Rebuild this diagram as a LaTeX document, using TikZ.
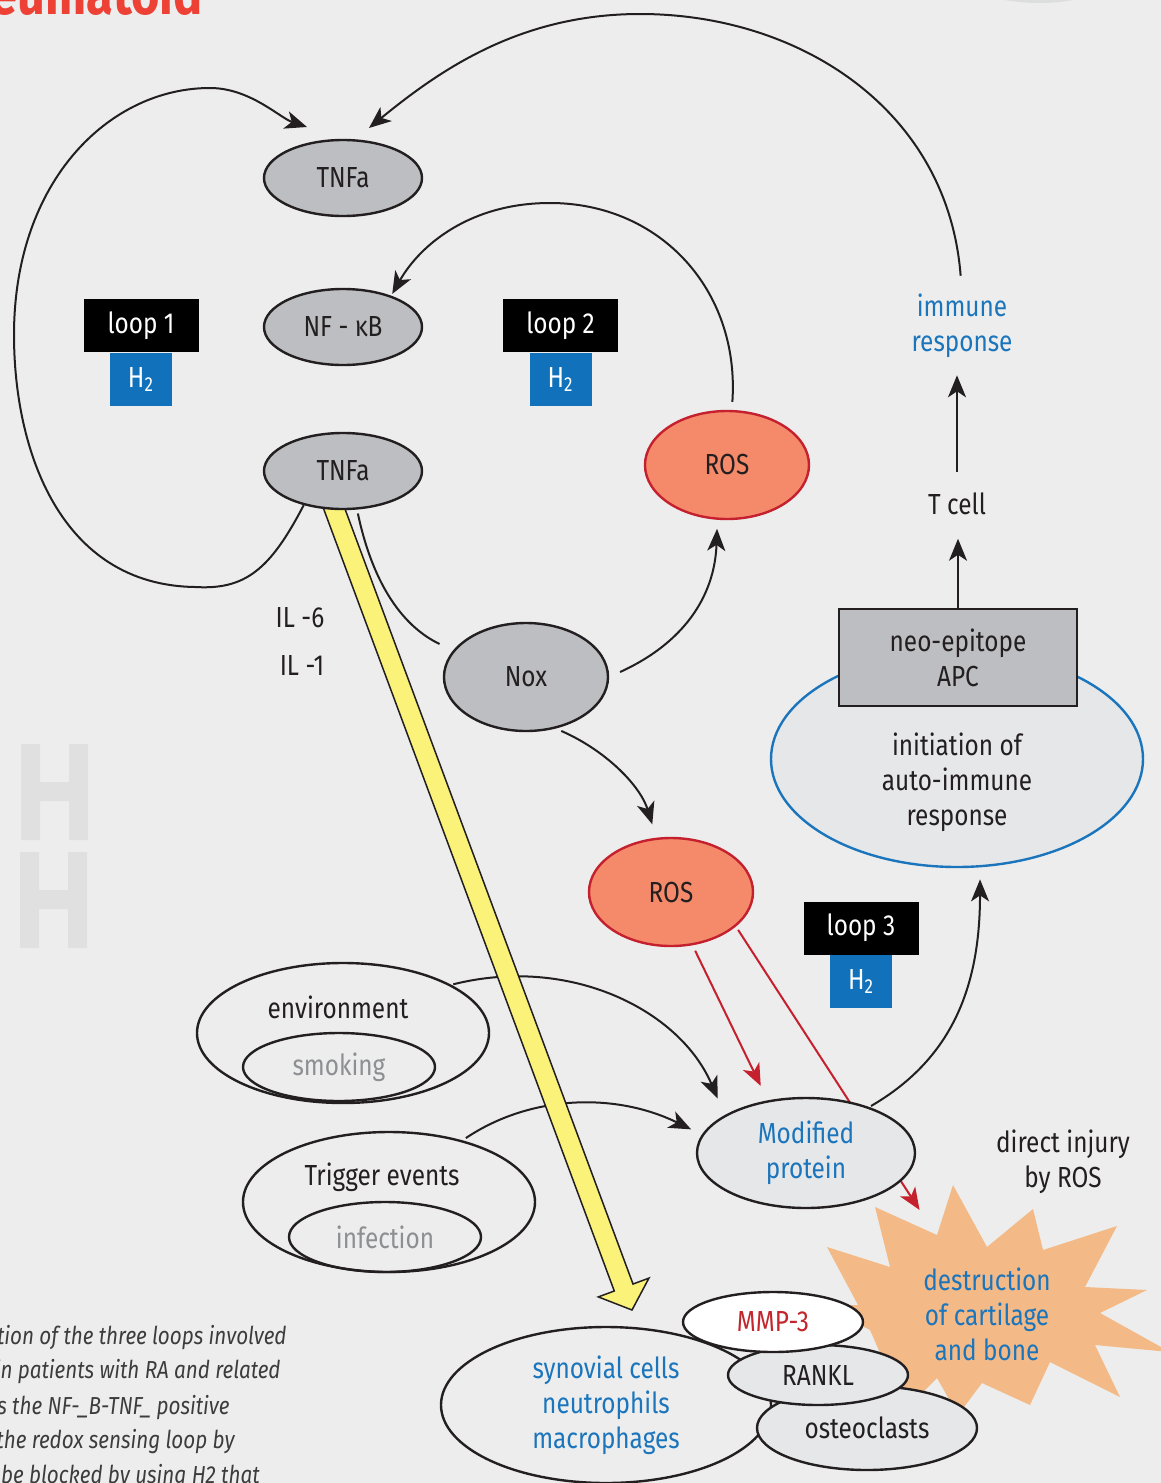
\documentclass[tikz,border=0pt]{standalone}
\usepackage{fontspec}
\setmainfont{Fira Sans}[FakeStretch=0.84]
\usetikzlibrary{arrows.meta, positioning, shapes.geometric, calc}

\definecolor{paper}{HTML}{ECEDEC}
\definecolor{ink}{HTML}{231F20}
\definecolor{nodegrey}{HTML}{BDBEC1}
\definecolor{pale}{HTML}{E6E7E9}
\definecolor{rosfill}{HTML}{F58A6B}
\definecolor{rosline}{HTML}{C5202E}
\definecolor{htwoblue}{HTML}{1172BB}
\definecolor{txtblue}{HTML}{1B75BC}
\definecolor{mmpred}{HTML}{C1272D}
\definecolor{arrowyellow}{HTML}{FAF279}
\definecolor{burstorange}{HTML}{F3BA88}
\definecolor{titlered}{HTML}{EE4136}
\definecolor{smokegrey}{HTML}{8E8F92}
\definecolor{markgrey}{HTML}{DFE0DF}
\definecolor{shadowgrey}{HTML}{DCDDDD}
\definecolor{captiongrey}{HTML}{3C3C3C}

\pgfdeclarelayer{back}
\pgfdeclarelayer{mid}
\pgfsetlayers{back,mid,main}

\tikzset{
  lbl/.style={font=\fontsize{14.5}{17.5}\selectfont, text=ink, inner sep=0pt, align=center},
  ell/.style={ellipse, lbl, draw=ink, line width=1.2pt},
  grey ell/.style={ell, fill=nodegrey, minimum width=79pt, minimum height=38pt},
  ros ell/.style={ell, draw=rosline, fill=rosfill, minimum width=82pt, minimum height=54pt},
  loopbox/.style={lbl, fill=black, text=white, minimum width=57.5pt, minimum height=26.5pt},
  htwo/.style={lbl, fill=htwoblue, text=white, minimum width=31pt, minimum height=26.5pt},
  link/.style={draw=ink, line width=1pt, -{Stealth[length=11pt, width=9pt, inset=3pt]}},
  plainlink/.style={draw=ink, line width=1pt},
  redlink/.style={draw=rosline, line width=1pt, -{Stealth[length=11pt, width=9pt, inset=3pt]}},
  caption/.style={font=\fontsize{12.3}{14}\selectfont\itshape, text=captiongrey, inner sep=0pt, anchor=base east},
}

\begin{document}
\begin{tikzpicture}[x=0.5pt, y=-0.5pt]
\useasboundingbox (0,0) rectangle (1161,1483);

\begin{pgfonlayer}{back}
  \fill[paper] (0,0) rectangle (1161,1483);
  % faint letters on the left
  \fill[markgrey] (21,744) rectangle (40,840) (69,744) rectangle (88,840) (40,782) rectangle (69,801);
  \fill[markgrey] (20,852) rectangle (39,948) (68,852) rectangle (87,948) (39,890) rectangle (68,909);
  \fill[shadowgrey] (1039,-190) circle[radius=193];
  % burst behind the bone cells
  \fill[burstorange] (953,1185) -- (987,1247) -- (1033,1209) -- (1043,1250) -- (1117,1226)
    -- (1085,1287) -- (1147,1290) -- (1100,1313) -- (1170,1352) -- (1095,1345) -- (1120,1397)
    -- (1050,1362) -- (1030,1405) -- (982,1383) -- (958,1415) -- (937,1378) -- (905,1410)
    -- (870,1330) -- (822,1305) -- (858,1305) -- (827,1247) -- (890,1267) -- (875,1207)
    -- (937,1235) -- cycle;
\end{pgfonlayer}

\node[anchor=base east, inner sep=0pt, font=\fontsize{29}{30}\selectfont\bfseries, text=titlered] (title) at (203,14) {eumatoid};

% loop nodes
\node[grey ell] (tnft) at (343,178) {TNFa};
\node[grey ell] (nfkb) at (343,327) {NF - κB};
\node[grey ell] (tnfb) at (343,471) {TNFa};
\node[loopbox] (loopa) at (141,325.5) {loop 1};
\node[htwo, below=0pt of loopa] (htwoa) {H\textsubscript{2}};
\node[loopbox] (loopb) at (560.5,325.5) {loop 2};
\node[htwo, below=0pt of loopb] (htwob) {H\textsubscript{2}};
\node[ros ell] (rost) at (727,465) {ROS};
\node[grey ell, minimum width=82pt, minimum height=54pt] (nox) at (526,677) {Nox};
\node[lbl, anchor=base] (ilsix) at (300,627) {IL -6};
\node[lbl, anchor=base] (ilone) at (302,675) {IL -1};
\node[ros ell] (rosm) at (671,892) {ROS};
\node[loopbox] (loopc) at (861,928) {loop 3};
\node[htwo, below=0pt of loopc] (htwoc) {H\textsubscript{2}};

% immune side
\node[lbl, text=txtblue] (immune) at (962,326) {immune\\response};
\node[lbl, anchor=base] (tcell) at (957,514) {T cell};
\node[ell, draw=txtblue, fill=pale, minimum width=186pt, minimum height=108pt] (init) at (957,759) {};
\node[lbl, draw=ink, line width=1.2pt, fill=nodegrey, minimum width=119pt, minimum height=48.5pt] (apc) at (958,657.5) {neo-epitope\\APC};
\node[lbl] (inittxt) at (957,782) {initiation of\\auto-immune\\response};

\node[ell, fill=pale, minimum width=109pt, minimum height=55pt, text=txtblue] (modp) at (806,1153) {Modified\\protein};
\node[lbl] (injury) at (1063,1162) {direct injury\\by ROS};
\node[lbl, text=txtblue] (dest) at (987,1314) {destruction\\of cartilage\\and bone};

% bottom cluster
\node[ell, fill=paper, minimum width=165pt, minimum height=78pt, text=txtblue] (syn) at (606,1405) {synovial cells\\neutrophils\\macrophages};
\node[ell, fill=pale, minimum width=110pt, minimum height=42pt] (ost) at (867,1428) {osteoclasts};
\node[ell, fill=pale, minimum width=90pt, minimum height=30pt] (rankl) at (818,1375) {RANKL};
\node[ell, fill=white, minimum width=90pt, minimum height=30pt, text=mmpred] (mmp) at (773,1322) {MMP-3};

\node[ell, minimum width=146pt, minimum height=70pt] (env) at (343,1033) {};
\node[ell, minimum width=96pt, minimum height=34pt, text=smokegrey] (smoke) at (339,1067) {smoking};
\node[lbl, anchor=base] (envtxt) at (338,1018) {environment};
\node[ell, minimum width=146pt, minimum height=70pt] (trig) at (389,1202) {};
\node[ell, minimum width=96pt, minimum height=35pt, text=smokegrey] (infect) at (385,1237) {infection};
\node[lbl, anchor=base] (trigtxt) at (382,1185) {Trigger events};

% caption, cut at the left edge
\node[caption] (capa) at (287,1344) {tion of the three loops involved};
\node[caption] (capb) at (281,1378) {in patients with RA and related};
\node[caption] (capc) at (230,1414) {s the NF-\_B-TNF\_ positive};
\node[caption] (capd) at (235,1448) {the redox sensing loop by};
\node[caption] (cape) at (260,1483) {be blocked by using H2 that};

\coordinate (t1in) at (307,127);
\coordinate (t2in) at (369,128);
\coordinate (ystart) at (331,500);
\coordinate (yend) at (632,1310);
\coordinate (ybase) at ($(yend)!12pt!(ystart)$);

\begin{pgfonlayer}{mid}
  \filldraw[fill=arrowyellow, draw=ink, line width=0.75pt, line join=miter]
    ($(ystart)!5pt!90:(yend)$) -- ($(ybase)!5pt!90:(yend)$) -- ($(ybase)!13.5pt!90:(yend)$)
    -- (yend) -- ($(ybase)!13.5pt!-90:(yend)$) -- ($(ybase)!5pt!-90:(yend)$)
    -- ($(ystart)!5pt!-90:(yend)$) -- cycle;
\end{pgfonlayer}

\begin{pgfonlayer}{back}
  % loop 1
  \draw[link] (tnfb.221) .. controls (270,570) and (245,590) .. (195,587)
    .. controls (60,585) and (14,450) .. (14,335)
    .. controls (14,180) and (110,88) .. (210,88)
    .. controls (250,88) and (280,118) .. (t1in);
  \draw[link, shorten <=9pt] (immune.north) .. controls (948,110) and (800,14) .. (640,14)
    .. controls (520,14) and (440,70) .. (t2in);
  % loop 2
  \draw[link, shorten <=4pt, shorten >=1pt] (rost.85) .. controls (740,290) and (660,203) .. (550,203)
    .. controls (470,203) and (420,245) .. (nfkb.33);
  \draw[plainlink, shorten <=2pt, shorten >=7.5pt] (tnfb.290) .. controls (372,580) and (400,625) .. (nox.160);
  \draw[link, shorten <=6pt, shorten >=4.5pt] (nox.east) .. controls (690,640) and (715,590) .. (rost.260);
  \draw[link, shorten <=3pt, shorten >=7pt] (nox.300) .. controls (605,750) and (640,785) .. (rosm.105);
  % loop 3
  \draw[link, shorten <=1pt, shorten >=9pt] (env.24) .. controls (570,955) and (680,1010) .. (modp.155);
  \draw[link, shorten <=2pt, shorten >=6pt] (trig.40) .. controls (530,1095) and (615,1092) .. (modp.170);
  \draw[redlink, shorten <=3pt, shorten >=8pt] (rosm.292) -- (modp.126);
  \draw[redlink, shorten <=2pt, shorten >=62pt] (rosm.332) -- (dest.center);
  \draw[link, shorten <=1pt, shorten >=6pt] (modp.36) .. controls (950,1060) and (980,990) .. (init.282);
  \draw[link, shorten >=12pt] (apc.north) -- (apc.north |- tcell.south);
  \draw[link, shorten <=10pt, shorten >=8.5pt] (tcell.north) -- (tcell.north |- immune.south);
\end{pgfonlayer}
\end{tikzpicture}
\end{document}
